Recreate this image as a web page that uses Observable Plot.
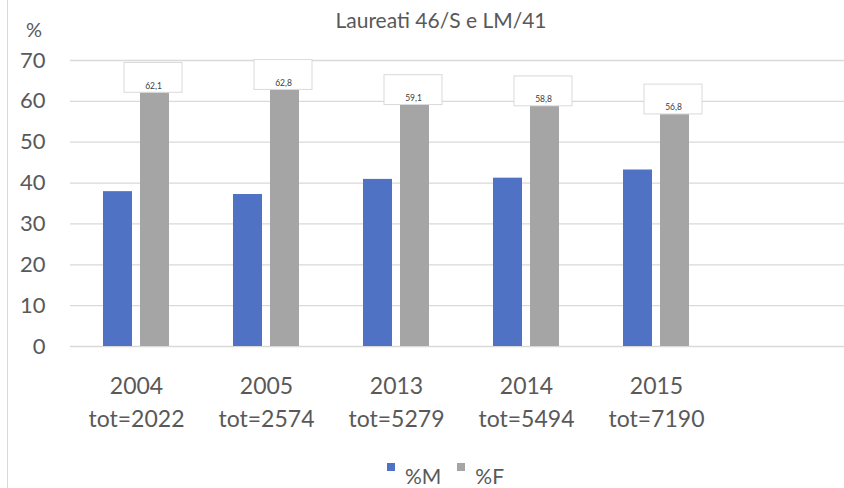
<!DOCTYPE html>
<html>
<head>
<meta charset="utf-8">
<script src="https://cdn.jsdelivr.net/npm/d3@7"></script>
<script src="https://cdn.jsdelivr.net/npm/@observablehq/plot@0.6"></script>
<style>
  html, body { margin: 0; padding: 0; background: #fff; }
  #wrap { position: relative; width: 844px; height: 488px; overflow: hidden; font-family: Lato, "Open Sans", sans-serif; color: #595959; }
  #edge { position: absolute; left: 7px; top: 0; width: 1px; height: 488px; background: #d9d9d9; }
  #title { position: absolute; left: 0; top: 8px; width: 844px; padding-left: 38px; box-sizing: border-box; text-align: center; font-size: 21px; line-height: 24px; }
  #unit { position: absolute; left: 26px; top: 17px; font-size: 20px; line-height: 24px; }
  #chart { position: absolute; left: 0; top: 0; }
  #legend { position: absolute; left: 387px; top: 462px; display: flex; align-items: flex-start; font-size: 21px; line-height: 24px; }
  #legend .sw { display: inline-block; width: 8px; height: 8px; margin-top: 1px; margin-right: 10px; }
  #legend .item { display: flex; align-items: flex-start; margin-right: 16px; }
  #legend .lab { padding-top: 2px; }
</style>
</head>
<body>
<div id="wrap">
  <div id="edge"></div>
  <div id="chart"></div>
  <div id="title">Laureati 46/S e LM/41</div>
  <div id="unit">%</div>
  <div id="legend"></div>
</div>
<script>
// Data
const years = ["2004", "2005", "2013", "2014", "2015"];
const totals = [2022, 2574, 5279, 5494, 7190];
const pctM = [37.9, 37.2, 40.9, 41.2, 43.2];
const pctF = [62.1, 62.8, 59.1, 58.8, 56.8];
const seriesNames = ["%M", "%F"];
const seriesColors = ["#4f72c4", "#a5a5a5"];
const yTicks = [0, 10, 20, 30, 40, 50, 60, 70];

const rowsM = years.map((y, i) => ({year: y, value: pctM[i]}));
const rowsF = years.map((y, i) => ({year: y, value: pctF[i]}));
const labelBoxUnits = 7.3;
const fmt = v => v.toFixed(1).replace(".", ",");

const chart = Plot.plot({
  width: 844,
  height: 488,
  marginLeft: 70,
  marginRight: 0,
  marginTop: 60,
  marginBottom: 142,
  style: {fontFamily: "Lato, 'Open Sans', sans-serif", background: "transparent", overflow: "visible"},
  x: {domain: years, range: [70, 722], paddingInner: 0.494, paddingOuter: 0.247, axis: null},
  y: {domain: [0, 70], axis: null},
  marks: [
    Plot.ruleY(yTicks, {stroke: "#d9d9d9", strokeWidth: 1.3}),
    Plot.axisY(yTicks, {tickSize: 0, tickPadding: 25, fontSize: 22, fill: "#595959", label: null}),
    Plot.barY(rowsM, {x: "year", y: "value", fill: seriesColors[0], insetLeft: 0, insetRight: 37}),
    Plot.barY(rowsF, {x: "year", y: "value", fill: seriesColors[1], insetLeft: 37, insetRight: 0}),
    Plot.barY(rowsF, {x: "year", y1: "value", y2: d => d.value + labelBoxUnits, fill: "white", stroke: "#d9d9d9", strokeWidth: 1, insetLeft: 21, insetRight: -13}),
    Plot.text(rowsF, {x: "year", y: "value", text: d => fmt(d.value), dx: 17, dy: -7, fontSize: 8.5, fill: "#404040"}),
    Plot.text(years, {x: d => d, y: 0, text: d => d, dy: 40, fontSize: 23, fill: "#595959"}),
    Plot.text(years, {x: d => d, y: 0, text: (d, i) => "tot=" + totals[i], dy: 73, fontSize: 23, fill: "#595959"})
  ]
});
document.getElementById("chart").appendChild(chart);

const legend = document.getElementById("legend");
seriesNames.forEach((name, i) => {
  const item = document.createElement("div");
  item.className = "item";
  const sw = document.createElement("span");
  sw.className = "sw";
  sw.style.background = seriesColors[i];
  const lab = document.createElement("span");
  lab.className = "lab";
  lab.textContent = name;
  item.appendChild(sw);
  item.appendChild(lab);
  legend.appendChild(item);
});
</script>
</body>
</html>
